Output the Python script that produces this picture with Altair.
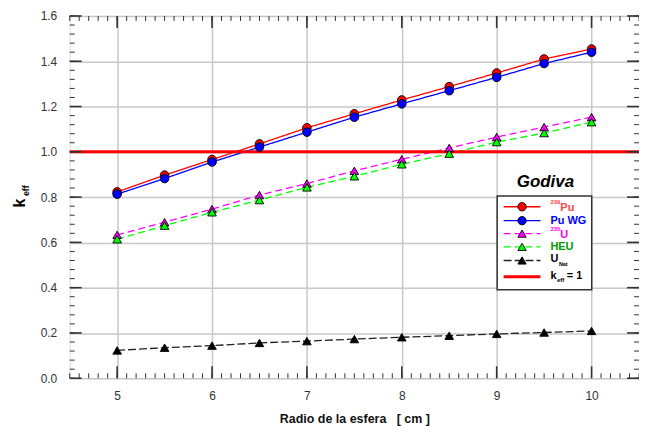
import altair as alt
import pandas as pd

# ---------------- data ----------------
radius = [5, 5.5, 6, 6.5, 7, 7.5, 8, 8.5, 9, 9.5, 10]
pu239 = [0.823, 0.897, 0.966, 1.035, 1.106, 1.168, 1.229, 1.288, 1.348, 1.410, 1.454]
pu_wg = [0.813, 0.882, 0.955, 1.021, 1.087, 1.153, 1.212, 1.270, 1.329, 1.390, 1.440]
u235 = [0.633, 0.689, 0.747, 0.809, 0.860, 0.916, 0.967, 1.017, 1.065, 1.109, 1.153]
heu = [0.614, 0.674, 0.733, 0.787, 0.843, 0.892, 0.945, 0.992, 1.043, 1.083, 1.131]
unat = [0.123, 0.135, 0.144, 0.156, 0.164, 0.173, 0.181, 0.188, 0.196, 0.202, 0.209]
keff_ref = 1.0

series_names = ["Pu239", "PuWG", "U235", "HEU", "UNat"]
series_vals = [pu239, pu_wg, u235, heu, unat]
line_colors = ["#ff0000", "#0000ff", "#ff00ff", "#00ff00", "#222222"]
fill_colors = ["#ff0000", "#0000ff", "#ff00ff", "#00ff00", "#000000"]
shapes = ["circle", "circle", "triangle-up", "triangle-up", "triangle-up"]
dashes = [[1, 0], [1, 0], [7, 4], [7, 4], [8, 3]]

x_major = [5, 6, 7, 8, 9, 10]
y_major = [0.0, 0.2, 0.4, 0.6, 0.8, 1.0, 1.2, 1.4, 1.6]
x_minor = [round(4.5 + 0.1 * i, 2) for i in range(61)]
y_minor = [round(0.04 * i, 2) for i in range(41)]

rows = []
for name, vals in zip(series_names, series_vals):
    for r, v in zip(radius, vals):
        rows.append({"series": name, "r": r, "k": v})
df = pd.DataFrame(rows)

W, H = 572, 364
FONT = "Liberation Sans"

xs = alt.Scale(domain=[4.5, 10.5], nice=False, zero=False)
ys = alt.Scale(domain=[0, 1.6], nice=False, zero=False)

x_axis = alt.Axis(values=x_major, grid=True, gridColor="#c8c8c8", gridWidth=1.5,
                  ticks=False, domain=False, labelFontSize=12, labelColor="#333333",
                  labelFont=FONT, labelPadding=12,
                  title="Radio de la esfera\u00a0\u00a0\u00a0[ cm ]", titleFont=FONT,
                  titleFontSize=12.5, titleFontWeight="bold", titleColor="#111111",
                  titlePadding=11)
y_axis = alt.Axis(values=y_major, grid=True, gridColor="#c8c8c8", gridWidth=1.5,
                  ticks=False, domain=False, labelFontSize=12, labelColor="#333333",
                  labelFont=FONT, labelPadding=13, format=".1f", title=None)

X = lambda f: alt.X(f, scale=xs, axis=x_axis)
Y = lambda f: alt.Y(f, scale=ys, axis=y_axis)

lines = alt.Chart(df).mark_line(strokeWidth=1.3).encode(
    x=X("r:Q"),
    y=Y("k:Q"),
    color=alt.Color("series:N", scale=alt.Scale(domain=series_names, range=line_colors), legend=None),
    strokeDash=alt.StrokeDash("series:N", scale=alt.Scale(domain=series_names, range=dashes), legend=None),
)

points = alt.Chart(df).mark_point(filled=True, stroke="#000000", strokeWidth=0.9, size=75, opacity=1).encode(
    x=X("r:Q"),
    y=Y("k:Q"),
    fill=alt.Fill("series:N", scale=alt.Scale(domain=series_names, range=fill_colors), legend=None),
    shape=alt.Shape("series:N", scale=alt.Scale(domain=series_names, range=shapes), legend=None),
)

ref_line = alt.Chart(alt.Data(values=[{"k": keff_ref}])).mark_rule(color="#ff0000", strokeWidth=3).encode(
    y=Y("k:Q")
)

# frame ticks (pointing inwards)
def xticks(vals, length, width):
    d = alt.Data(values=[{"r": v} for v in vals])
    bot = alt.Chart(d).mark_rule(color="#333333", strokeWidth=width).encode(
        x=X("r:Q"), y=alt.value(H), y2=alt.value(H - length))
    top = alt.Chart(d).mark_rule(color="#333333", strokeWidth=width).encode(
        x=X("r:Q"), y=alt.value(0), y2=alt.value(length))
    return [bot, top]

def yticks(vals, length, width):
    d = alt.Data(values=[{"k": v} for v in vals])
    left = alt.Chart(d).mark_rule(color="#333333", strokeWidth=width).encode(
        y=Y("k:Q"), x=alt.value(0), x2=alt.value(length))
    right = alt.Chart(d).mark_rule(color="#333333", strokeWidth=width).encode(
        y=Y("k:Q"), x=alt.value(W), x2=alt.value(W - length))
    return [left, right]

tick_layers = xticks(x_minor, 5, 1) + xticks(x_major, 12, 1.6) + yticks(y_minor, 5, 1) + yticks(y_major, 12, 1.6)

one = alt.Data(values=[{"a": 1}])

def txt(text, x, y, size, color="#000000", weight="bold", style="normal", align="left", angle=0):
    return alt.Chart(one).mark_text(text=text, font=FONT, fontSize=size, fontWeight=weight,
                                    fontStyle=style, color=color, align=align, baseline="middle",
                                    angle=angle).encode(x=alt.value(x), y=alt.value(y))

# y-axis title k_eff
ytitle = [txt("k", -50, 188, 16, angle=270, align="center"),
          txt("eff", -44, 175.5, 9, angle=270, align="center")]

# legend
OX, OY = 70, 15
box = alt.Chart(one).mark_rect(fill="white", stroke="#333333", strokeWidth=1.5).encode(
    x=alt.value(499.5 - OX), x2=alt.value(594.5 - OX), y=alt.value(196 - OY), y2=alt.value(290 - OY))
godiva = txt("Godiva", 548 - OX, 181.5 - OY, 17, style="italic", align="center")

legend_layers = [box, godiva]
row_y = [206.7, 220.7, 233.7, 247.0, 260.7, 277.0]
for i in range(5):
    yy = row_y[i] - OY
    legend_layers.append(alt.Chart(one).mark_rule(color=line_colors[i], strokeWidth=1.3,
                                                  strokeDash=dashes[i] if i >= 2 else [1, 0]).encode(
        x=alt.value(506 - OX), x2=alt.value(543 - OX), y=alt.value(yy)))
    legend_layers.append(alt.Chart(one).mark_point(filled=True, fill=fill_colors[i], stroke="#000000",
                                                   strokeWidth=0.9, size=70, shape=shapes[i], opacity=1).encode(
        x=alt.value(524.5 - OX), y=alt.value(yy)))
legend_layers.append(alt.Chart(one).mark_rule(color="#ff0000", strokeWidth=3).encode(
    x=alt.value(506 - OX), x2=alt.value(543 - OX), y=alt.value(row_y[5] - OY)))

LX = 553 - OX
legend_layers += [
    txt("239", LX, row_y[0] - OY - 5, 6, color="#ff4545"),
    txt("Pu", LX + 10, row_y[0] - OY + 1, 11, color="#ff4545"),
    txt("Pu WG", LX, row_y[1] - OY, 11, color="#0000ff"),
    txt("235", LX, row_y[2] - OY - 5, 6, color="#ff00ff"),
    txt("U", LX + 10, row_y[2] - OY + 1, 11, color="#ff00ff"),
    txt("HEU", LX, row_y[3] - OY, 11, color="#009900"),
    txt("U", LX, row_y[4] - OY - 1, 11),
    txt("Nat", LX + 8.5, row_y[4] - OY + 4, 5.5),
    txt("k", LX, row_y[5] - OY - 1, 11),
    txt("eff", LX + 6.5, row_y[5] - OY + 3.5, 6),
    txt("= 1", LX + 16.5, row_y[5] - OY - 1, 11),
]

chart = alt.layer(
    lines, ref_line, points, *tick_layers, *ytitle, *legend_layers
).properties(
    width=W, height=H,
    autosize=alt.AutoSizeParams(type="none"),
    padding={"left": 62, "top": 7, "right": 0, "bottom": 52},
).configure_view(stroke="#111111", strokeWidth=1.8).configure(background="white")

chart.save("out.html", embed_options={"renderer": "svg", "actions": False})
